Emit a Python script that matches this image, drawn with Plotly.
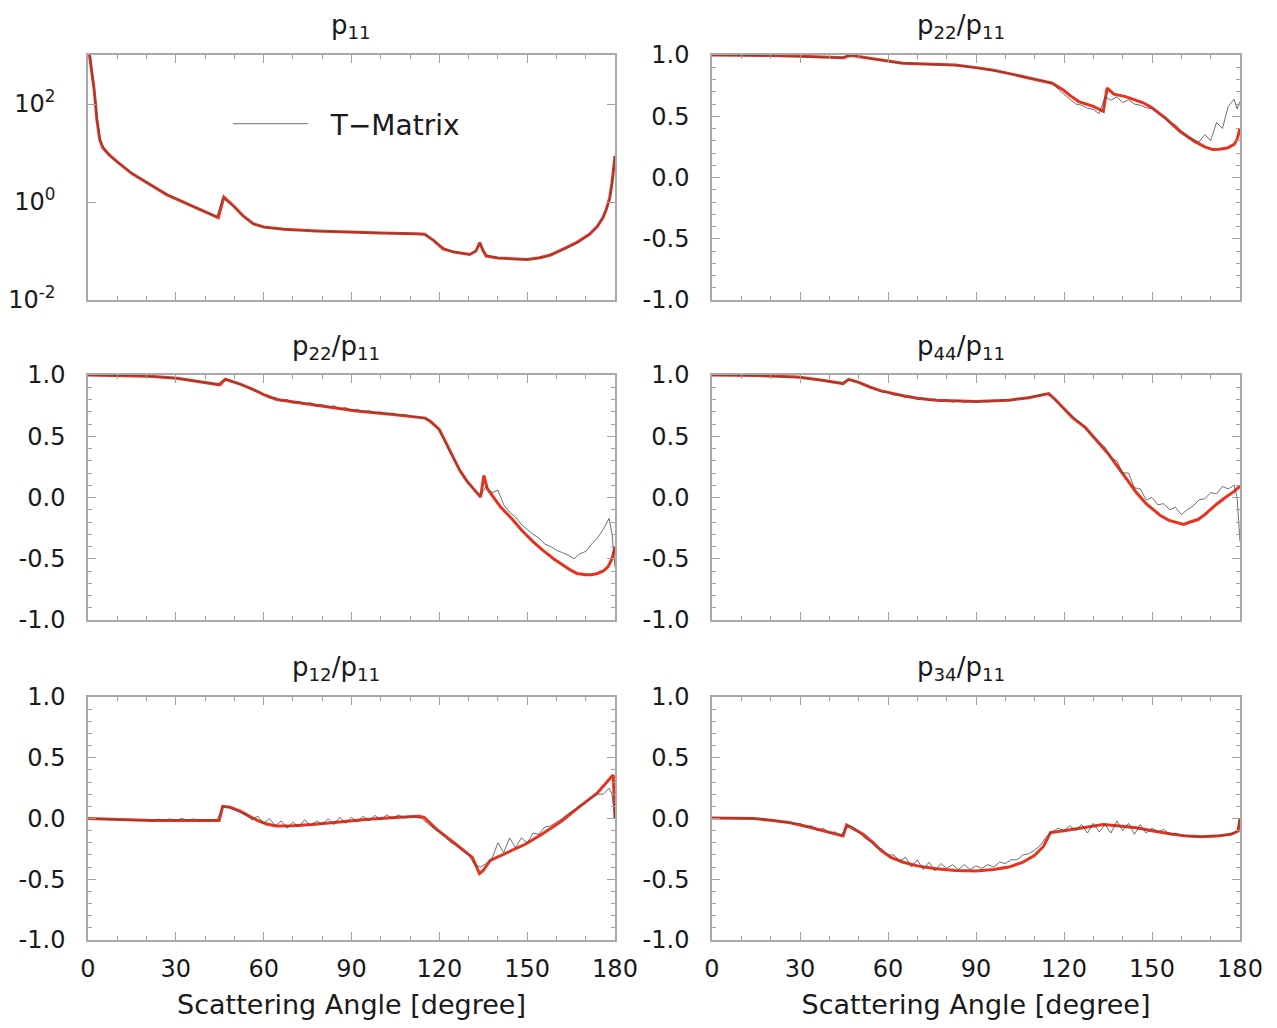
import plotly.graph_objects as go
from plotly.subplots import make_subplots

# ---------------- data ----------------
# common angle grid of the T-Matrix curves (degrees)
tm_angle = [0, 2, 4, 6, 8, 10, 12, 14, 16, 18, 20, 22, 24, 26, 28, 30, 32, 34, 36, 38,
            40, 42, 44, 46, 48, 50, 52, 54, 56, 58, 60, 62, 64, 66, 68, 70, 72, 74, 76, 78,
            80, 82, 84, 86, 88, 90, 92, 94, 96, 98, 100, 102, 104, 106, 108, 110, 112, 114, 116, 118,
            120, 122, 124, 126, 128, 130, 132, 134, 136, 138, 140, 142, 144, 146, 148, 150, 152, 154, 156, 158,
            160, 162, 164, 166, 168, 170, 172, 174, 176, 178, 179, 180]

# p11 (log scale)
tm_p11 = [3000, 200, 19, 11, 8.0, 6.5, 5.2, 4.2, 3.5, 3.0, 2.5, 2.1, 1.8, 1.55, 1.35, 1.18, 1.03, 0.92, 0.81, 0.72,
          0.64, 0.57, 0.50, 1.2, 0.98, 0.78, 0.6, 0.45, 0.37, 0.33, 0.31, 0.29, 0.287, 0.276, 0.274, 0.266, 0.267, 0.26, 0.26, 0.253,
          0.254, 0.248, 0.25, 0.244, 0.246, 0.24, 0.242, 0.236, 0.238, 0.233, 0.235, 0.23, 0.232, 0.227, 0.23, 0.224, 0.226, 0.221, 0.2, 0.165,
          0.135, 0.112, 0.1, 0.093, 0.089, 0.086, 0.095, 0.14, 0.085, 0.077, 0.073, 0.07, 0.068, 0.067, 0.066, 0.068, 0.068, 0.073, 0.076, 0.084,
          0.091, 0.104, 0.117, 0.136, 0.157, 0.19, 0.24, 0.32, 0.5, 1.0, 2.2, 8.5]
red_p11_angle = [0, 0.5, 1, 1.5, 2, 2.5, 3, 4, 5, 7, 10, 15, 20, 27, 32, 38, 44.5, 46.4, 50, 53, 56.4, 60,
                 67, 78, 90, 100, 112, 115, 118, 121.3, 125, 130.4, 132.5, 133.8, 135, 136, 140, 146.3, 150, 154.3, 158, 163.4,
                 167, 171.3, 174, 175.9, 177, 178.2, 179, 180]
red_p11 = [3000, 1000, 600, 380, 220, 110, 50, 19, 13, 9.5, 6.6, 3.8, 2.5, 1.4, 1.03, 0.71, 0.48, 1.26, 0.8, 0.52, 0.36, 0.31,
           0.277, 0.257, 0.242, 0.233, 0.225, 0.22, 0.165, 0.11, 0.095, 0.085, 0.1, 0.148, 0.1, 0.079, 0.072, 0.068, 0.067, 0.073, 0.083, 0.117,
           0.15, 0.22, 0.32, 0.48, 0.7, 1.23, 2.5, 8.7]

# p22/p11 (top right)
tm_p22a = [1.0, 1.0, 1.0, 1.0, 0.998, 0.998, 0.997, 0.996, 0.995, 0.995, 0.994, 0.993, 0.992, 0.991, 0.99, 0.989, 0.988, 0.987, 0.986, 0.985,
           0.984, 0.982, 0.978, 0.992, 0.994, 0.987, 0.978, 0.97, 0.962, 0.955, 0.948, 0.94, 0.934, 0.932, 0.93, 0.928, 0.927, 0.925, 0.923, 0.922,
           0.92, 0.918, 0.913, 0.908, 0.902, 0.896, 0.89, 0.882, 0.874, 0.865, 0.855, 0.846, 0.836, 0.826, 0.815, 0.805, 0.793, 0.782, 0.765, 0.72,
           0.68, 0.64, 0.6, 0.59, 0.565, 0.555, 0.52, 0.66, 0.63, 0.66, 0.61, 0.635, 0.6, 0.59, 0.57, 0.56, 0.52, 0.49, 0.45, 0.43,
           0.38, 0.33, 0.31, 0.29, 0.35, 0.3, 0.45, 0.4, 0.58, 0.64, 0.56, 0.62]
red_p22a_angle = [0, 10, 20, 30, 40, 45, 46, 47.8, 52, 57, 60, 65, 75, 83, 90, 96, 101, 106, 110, 116,
                  118, 120, 122, 125, 130, 133.4, 134.7, 137, 141, 145, 147, 150, 154.6, 159.5, 164.5, 168, 170.7, 173, 175.7, 178,
                  179, 180]
red_p22a = [1.0, 1.0, 0.995, 0.99, 0.985, 0.978, 0.99, 0.995, 0.98, 0.96, 0.95, 0.932, 0.925, 0.918, 0.897, 0.875, 0.85, 0.825, 0.805, 0.77,
            0.74, 0.71, 0.67, 0.62, 0.58, 0.54, 0.73, 0.68, 0.66, 0.63, 0.61, 0.57, 0.485, 0.377, 0.295, 0.25, 0.228, 0.23, 0.24, 0.27,
            0.31, 0.40]

# p22/p11 (middle left)
tm_p22b = [1.0, 1.0, 1.0, 0.999, 0.998, 0.998, 0.996, 0.995, 0.994, 0.992, 0.99, 0.988, 0.985, 0.982, 0.978, 0.973, 0.967, 0.96, 0.952, 0.945,
           0.938, 0.93, 0.922, 0.955, 0.96, 0.94, 0.925, 0.905, 0.885, 0.862, 0.845, 0.81, 0.815, 0.79, 0.8, 0.77, 0.785, 0.76, 0.775, 0.745,
           0.76, 0.735, 0.75, 0.72, 0.735, 0.71, 0.72, 0.7, 0.708, 0.69, 0.698, 0.68, 0.688, 0.672, 0.678, 0.664, 0.66, 0.652, 0.64, 0.6,
           0.55, 0.45, 0.35, 0.27, 0.19, 0.12, 0.06, 0.02, 0.09, 0.04, 0.06, -0.06, -0.12, -0.16, -0.22, -0.26, -0.3, -0.33, -0.38, -0.4,
           -0.43, -0.45, -0.47, -0.5, -0.46, -0.44, -0.38, -0.33, -0.26, -0.17, -0.3, -0.57]
red_p22b_angle = [0, 10, 21, 30.4, 38, 45, 46.9, 49, 52, 56.3, 60, 64.5, 70, 80, 91.6, 103.4, 110, 115.2, 117, 119.9,
                  122, 124.6, 127, 129.3, 132, 134.1, 135.2, 136.4, 138, 141, 145, 148.2, 152, 155.3, 159, 162.3, 165, 167, 170, 172,
                  174, 176, 177.6, 179, 180]
red_p22b = [1.0, 0.998, 0.99, 0.973, 0.945, 0.92, 0.965, 0.95, 0.925, 0.883, 0.84, 0.80, 0.78, 0.748, 0.707, 0.68, 0.665, 0.648, 0.62, 0.558,
            0.46, 0.328, 0.22, 0.138, 0.06, 0.003, 0.18, 0.07, 0.02, -0.08, -0.18, -0.27, -0.36, -0.43, -0.5, -0.553, -0.595, -0.62, -0.63, -0.63,
            -0.62, -0.6, -0.566, -0.5, -0.40]

# p44/p11 (middle right)
tm_p44 = [1.0, 1.0, 1.0, 1.0, 0.999, 0.998, 0.997, 0.996, 0.995, 0.994, 0.992, 0.99, 0.988, 0.986, 0.984, 0.982, 0.975, 0.968, 0.962, 0.955,
          0.948, 0.94, 0.932, 0.96, 0.955, 0.94, 0.92, 0.9, 0.885, 0.86, 0.86, 0.835, 0.84, 0.815, 0.825, 0.8, 0.812, 0.79, 0.805, 0.782,
          0.8, 0.778, 0.795, 0.775, 0.792, 0.776, 0.792, 0.78, 0.795, 0.785, 0.8, 0.79, 0.81, 0.805, 0.82, 0.83, 0.838, 0.845, 0.82, 0.77,
          0.72, 0.68, 0.64, 0.6, 0.55, 0.5, 0.45, 0.41, 0.32, 0.3, 0.2, 0.2, 0.08, 0.07, -0.02, 0.0, -0.06, -0.05, -0.1, -0.08,
          -0.14, -0.1, -0.07, -0.02, -0.01, 0.04, 0.03, 0.09, 0.07, 0.1, 0.0, -0.36]
red_p44_angle = [0, 15, 29.2, 37, 44.7, 46.6, 50, 54, 57.7, 61, 65.2, 70, 76.3, 90, 101.2, 108, 113.6, 114.8, 117, 119.8,
                 123, 127.3, 132.2, 135, 138.4, 141, 144.6, 148, 150.8, 153, 155.8, 158, 160.8, 163, 165.7, 168, 171.9, 175, 178, 180]
red_p44 = [1.0, 0.995, 0.984, 0.96, 0.93, 0.965, 0.94, 0.9, 0.87, 0.85, 0.83, 0.81, 0.794, 0.783, 0.794, 0.815, 0.843, 0.848, 0.8, 0.73,
           0.65, 0.57, 0.44, 0.36, 0.247, 0.16, 0.043, -0.05, -0.106, -0.15, -0.187, -0.2, -0.22, -0.2, -0.18, -0.14, -0.057, 0.0, 0.05, 0.092]

# p12/p11 (bottom left)
tm_p12 = [0.0, -0.002, -0.005, -0.008, -0.01, -0.012, -0.014, -0.015, -0.012, -0.016, -0.01, -0.018, -0.005, -0.015, -0.003, -0.016, 0.0, -0.014, -0.004, -0.016,
          -0.008, -0.014, -0.016, 0.095, 0.095, 0.07, 0.05, 0.03, -0.01, 0.02, -0.04, 0.0, -0.06, -0.02, -0.08, -0.03, -0.07, -0.01, -0.06, -0.02,
          -0.05, 0.0, -0.05, 0.01, -0.04, 0.01, -0.03, 0.02, -0.02, 0.025, -0.01, 0.03, 0.0, 0.03, 0.005, 0.02, 0.01, 0.0, -0.04, -0.08,
          -0.11, -0.15, -0.2, -0.22, -0.27, -0.3, -0.38, -0.4, -0.37, -0.33, -0.2, -0.28, -0.16, -0.24, -0.16, -0.2, -0.12, -0.13, -0.07, -0.06,
          -0.03, 0.0, 0.04, 0.07, 0.1, 0.13, 0.17, 0.2, 0.2, 0.25, 0.2, 0.0]
red_p12_angle = [0, 10, 21.7, 44.8, 46, 48.5, 52, 55, 58.2, 61, 64.3, 70, 76.5, 85, 94.7, 105, 113, 114.8, 119.1, 125,
                 131.3, 133.7, 134.9, 137.4, 143, 149.5, 155, 161.7, 168, 173.9, 178.8, 179.4, 180]
red_p12 = [0.0, -0.01, -0.016, -0.016, 0.1, 0.092, 0.06, 0.02, -0.02, -0.045, -0.062, -0.06, -0.05, -0.03, -0.008, 0.008, 0.019, 0.01, -0.09, -0.2,
           -0.32, -0.454, -0.43, -0.345, -0.28, -0.21, -0.13, -0.022, 0.1, 0.208, 0.343, 0.357, 0.005]

# p34/p11 (bottom right)
tm_p34 = [0.005, 0.005, 0.004, 0.004, 0.003, 0.002, 0.001, 0.0, -0.004, -0.008, -0.015, -0.02, -0.03, -0.028, -0.045, -0.04, -0.07, -0.06, -0.1, -0.08,
          -0.12, -0.11, -0.145, -0.055, -0.07, -0.11, -0.16, -0.19, -0.24, -0.25, -0.3, -0.3, -0.35, -0.32, -0.4, -0.34, -0.42, -0.36, -0.43, -0.37,
          -0.41, -0.38, -0.42, -0.38, -0.42, -0.39, -0.41, -0.38, -0.4, -0.36, -0.37, -0.34, -0.34, -0.3, -0.29, -0.26, -0.22, -0.15, -0.11, -0.08,
          -0.1, -0.06, -0.1, -0.05, -0.12, -0.04, -0.11, -0.05, -0.12, -0.02, -0.1, -0.04, -0.13, -0.05, -0.12, -0.08, -0.11, -0.09, -0.13, -0.12,
          -0.14, -0.14, -0.15, -0.15, -0.15, -0.145, -0.14, -0.14, -0.13, -0.12, -0.1, 0.0]
red_p34_angle = [0, 8, 14.3, 20, 26.7, 33, 40, 44.7, 45.9, 48, 51.5, 55, 57.7, 61, 65.2, 70, 76.3, 83, 90, 96,
                 101.2, 106, 109.9, 113, 115.4, 120, 126, 130, 133.4, 138, 144.6, 150, 157, 162, 166.9, 172, 176.9, 179.4, 180]
red_p34 = [0.005, 0.003, 0.0, -0.015, -0.035, -0.07, -0.11, -0.143, -0.054, -0.08, -0.13, -0.2, -0.265, -0.32, -0.36, -0.39, -0.414, -0.428, -0.432, -0.42,
           -0.4, -0.36, -0.305, -0.23, -0.116, -0.1, -0.076, -0.06, -0.049, -0.06, -0.076, -0.1, -0.13, -0.145, -0.15, -0.145, -0.13, -0.103, 0.005]

titles = ["p<sub>11</sub>", "p<sub>22</sub>/p<sub>11</sub>",
          "p<sub>22</sub>/p<sub>11</sub>", "p<sub>44</sub>/p<sub>11</sub>",
          "p<sub>12</sub>/p<sub>11</sub>", "p<sub>34</sub>/p<sub>11</sub>"]
x_ticks = [0, 30, 60, 90, 120, 150, 180]
y_ticks = [-1.0, -0.5, 0.0, 0.5, 1.0]
y_ticktext = ["-1.0", "-0.5", "0.0", "0.5", "1.0"]
log_ticks = [0.01, 1, 100]
log_ticktext = ["10<sup>-2</sup>", "10<sup>0</sup>", "10<sup>2</sup>"]
x_title = "Scattering Angle [degree]"
legend_name = "\u00a0\u00a0T\u2212Matrix"

# ---------------- figure ----------------
FONT = "DejaVu Sans, Noto Sans, sans-serif"
TXT = "#1a1a1a"
RED = "#e8321e"
GRAY = "#4a4a4a"

fig = make_subplots(rows=3, cols=2)

panels = [
    (1, 1, red_p11_angle, red_p11, tm_p11),
    (1, 2, red_p22a_angle, red_p22a, tm_p22a),
    (2, 1, red_p22b_angle, red_p22b, tm_p22b),
    (2, 2, red_p44_angle, red_p44, tm_p44),
    (3, 1, red_p12_angle, red_p12, tm_p12),
    (3, 2, red_p34_angle, red_p34, tm_p34),
]
for i, (r, c, ra, rv, tv) in enumerate(panels):
    fig.add_trace(go.Scatter(x=ra, y=rv, mode="lines", line=dict(color=RED, width=3),
                             showlegend=False, hoverinfo="skip"), row=r, col=c)
    fig.add_trace(go.Scatter(x=tm_angle, y=tv, mode="lines", name=legend_name,
                             line=dict(color=GRAY, width=0.8),
                             showlegend=(i == 0)), row=r, col=c)

# page has an 8px body margin: reference pixel -> figure pixel
OFF = 8
W, H = 1277 - 2 * OFF, 1028 - 2 * OFF
ml, mr, mt, mb = 88 - OFF, W - (1240 - OFF), 55 - OFF, H - (940 - OFF)
pw, ph = W - ml - mr, H - mt - mb
def xd(a, b):
    return [(a - OFF - ml) / pw, (b - OFF - ml) / pw]
def yd(top, bot):
    return [1 - (bot - OFF - mt) / ph, 1 - (top - OFF - mt) / ph]
def px2x(p):
    return (p - OFF - ml) / pw
def px2y(p):
    return 1 - (p - OFF - mt) / ph
xdoms = {1: xd(88, 615), 2: xd(712, 1240)}
ydoms = {1: yd(55, 300), 2: yd(375, 620), 3: yd(697, 940)}

axis_common = dict(showline=True, mirror="allticks", linecolor="#a8a8a8", linewidth=1.5,
                   ticks="inside", tickcolor="#a0a0a0", ticklen=8, tickwidth=1.2,
                   showgrid=False, zeroline=False, automargin=False,
                   tickfont=dict(family=FONT, size=24, color=TXT))

for r in range(1, 4):
    for c in range(1, 3):
        fig.update_xaxes(domain=xdoms[c], range=[0, 180], tickvals=x_ticks,
                         minor=dict(ticks="inside", ticklen=4, tickcolor="#a0a0a0", dtick=10, tick0=0),
                         showticklabels=(r == 3), ticklabelstandoff=6, **axis_common, row=r, col=c)
        if r == 3:
            fig.update_xaxes(title=dict(text=x_title, font=dict(family=FONT, size=27, color=TXT),
                                        standoff=18), row=r, col=c)
        if r == 1 and c == 1:
            fig.update_yaxes(domain=ydoms[r], type="log", range=[-2, 3], tickvals=log_ticks,
                             ticktext=log_ticktext, ticklabelstandoff=26, **axis_common, row=r, col=c)
        else:
            fig.update_yaxes(domain=ydoms[r], range=[-1, 1], tickvals=y_ticks, ticktext=y_ticktext,
                             minor=dict(ticks="inside", ticklen=4, tickcolor="#a0a0a0", dtick=0.1, tick0=0),
                             ticklabelstandoff=16, **axis_common, row=r, col=c)

# subplot titles
title_pos = [(351, 27), (961, 27), (336, 347), (961, 347), (336, 668), (961, 668)]
for t, (px, py) in zip(titles, title_pos):
    fig.add_annotation(text=t, xref="paper", yref="paper",
                       x=px2x(px), y=px2y(py),
                       xanchor="center", yanchor="middle", showarrow=False,
                       font=dict(family=FONT, size=26, color=TXT))

fig.update_layout(
    width=W, height=H,
    margin=dict(l=ml, r=mr, t=mt, b=mb, autoexpand=False),
    paper_bgcolor="white", plot_bgcolor="white",
    font=dict(family=FONT, size=24, color=TXT),
    legend=dict(x=px2x(228), y=px2y(124), xanchor="left", yanchor="middle",
                bgcolor="rgba(0,0,0,0)", font=dict(family=FONT, size=28, color=TXT),
                itemwidth=75),
)

fig.write_html("out.html")
